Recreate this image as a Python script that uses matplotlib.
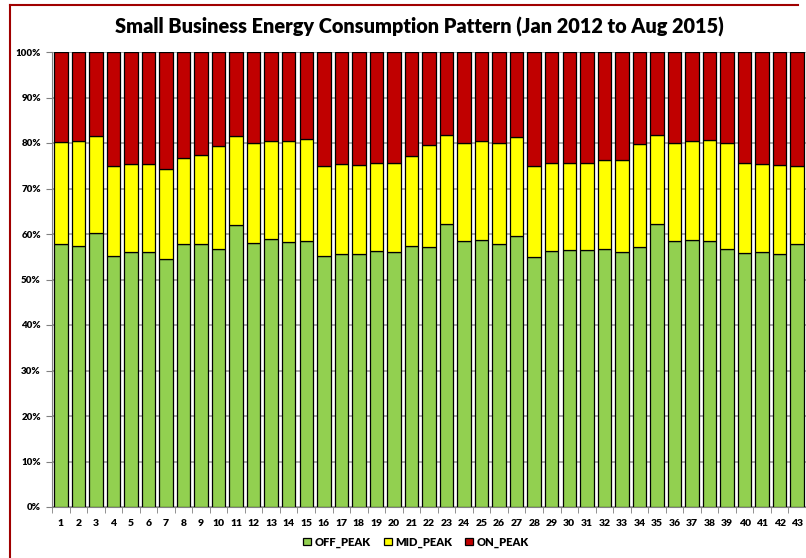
import numpy as np
import matplotlib.pyplot as plt
from matplotlib.lines import Line2D

months = list(range(1, 44))

# share of each month's consumption, percent
off_peak = [57.9, 57.4, 60.2, 55.1, 56.0, 56.1, 54.4, 57.7, 57.7, 56.8,
            62.0, 58.1, 58.8, 58.2, 58.5, 55.1, 55.5, 55.7, 56.3, 56.0,
            57.4, 57.2, 62.1, 58.5, 58.7, 57.7, 59.6, 55.0, 56.3, 56.5,
            56.4, 56.6, 56.0, 57.2, 62.1, 58.5, 58.7, 58.5, 56.8, 55.8,
            56.0, 55.7, 57.7]
off_plus_mid = [80.2, 80.4, 81.6, 75.0, 75.4, 75.4, 74.3, 76.8, 77.3, 79.3,
                81.6, 79.9, 80.5, 80.4, 80.8, 75.0, 75.3, 75.1, 75.5, 75.7,
                77.1, 79.6, 81.8, 80.1, 80.4, 80.1, 81.3, 75.0, 75.6, 75.7,
                75.6, 76.3, 76.3, 79.7, 81.8, 80.1, 80.4, 80.6, 79.9, 75.5,
                75.4, 75.1, 74.9]

mid_peak = [b - a for a, b in zip(off_peak, off_plus_mid)]
on_peak = [100 - b for b in off_plus_mid]

plt.rcParams['font.family'] = ['Lato', 'DejaVu Sans']
wt = 'heavy'

fig = plt.figure(figsize=(8.06, 5.58), dpi=100)
ax = fig.add_axes([52 / 806, 51 / 558, 754 / 806, 455 / 558])

x = np.arange(len(months))
w = 0.77
ax.bar(x, off_peak, w, color='#92D050', edgecolor='black', linewidth=0.9, label='OFF_PEAK', zorder=3)
ax.bar(x, mid_peak, w, bottom=off_peak, color='#FFFF00', edgecolor='black', linewidth=0.9, label='MID_PEAK', zorder=3)
ax.bar(x, on_peak, w, bottom=off_plus_mid, color='#C00000', edgecolor='black', linewidth=0.9, label='ON_PEAK', zorder=3)

ax.set_xlim(-0.5, len(months) - 0.5)
ax.set_ylim(0, 100)
ax.set_yticks(np.arange(0, 101, 10))
ax.set_yticklabels([f'{v}%' for v in range(0, 101, 10)], fontsize=7, fontweight=wt)
ax.set_xticks(x)
ax.set_xticklabels([str(m) for m in months], fontsize=7.5, fontweight=wt)
ax.set_xticks(np.arange(-0.5, len(months), 1), minor=True)
ax.tick_params(axis='x', which='major', length=0, pad=9)
ax.tick_params(axis='x', which='minor', length=4, color='#808080', direction='out')
ax.tick_params(axis='y', length=4, color='#808080', pad=4)
ax.grid(axis='y', color='#a6a6a6', linewidth=1.3, zorder=0)

for s in ['top', 'right']:
    ax.spines[s].set_visible(False)
ax.spines['left'].set_color('#808080')
ax.spines['bottom'].set_color('#808080')

fig.text(419 / 806, 1 - 27 / 558, 'Small Business Energy Consumption Pattern (Jan 2012 to Aug 2015)',
         ha='center', va='center', fontsize=14.3, fontweight=wt)

fig.legend(loc='center', bbox_to_anchor=(416 / 806, 1 - 542 / 558), ncol=3, frameon=False,
           prop={'size': 8, 'weight': wt}, handlelength=0.7, handleheight=0.7,
           handletextpad=0.3, columnspacing=1.2)

# chart area border: left and top edges only, the rest is cut off
fig.lines.append(Line2D([9.5 / 806, 9.5 / 806], [0, 1 - 4.5 / 558],
                        transform=fig.transFigure, color='#a00000', linewidth=1.5))
fig.lines.append(Line2D([9.5 / 806, 0.99], [1 - 4.5 / 558, 1 - 4.5 / 558],
                        transform=fig.transFigure, color='#a00000', linewidth=1.5))

fig.savefig('out.png', dpi=100)
